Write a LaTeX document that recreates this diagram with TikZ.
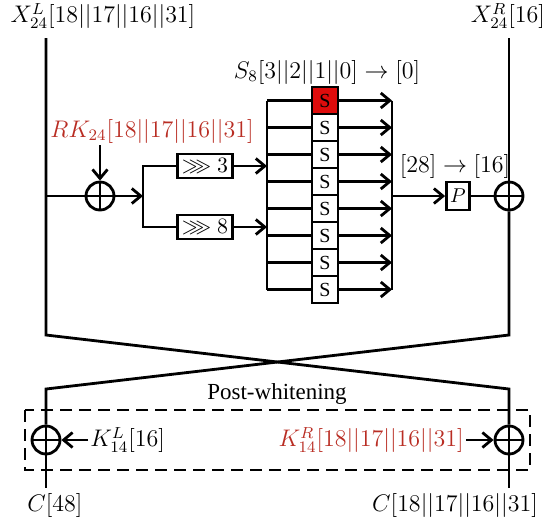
\documentclass[tikz,border=0pt]{standalone}
\usepackage{amssymb}
\usepackage{fontspec}
\setmainfont{Liberation Serif}
\usetikzlibrary{arrows.meta,positioning}
\definecolor{keyred}{RGB}{185,45,35}
\definecolor{sred}{RGB}{222,12,12}
\tikzstyle{arrow} = [->,>={Straight Barb[length=4.5pt,width=7.5pt]}]
\tikzset{
lbl/.style={inner sep=0.5pt,font=\fontsize{11.5}{13}\selectfont},
xorc/.style={circle,draw,minimum size=14pt,inner sep=0pt,
  path picture={\draw[line width=1.4pt] (path picture bounding box.north) -- (path picture bounding box.south)
  (path picture bounding box.west) -- (path picture bounding box.east);}},
shbox/.style={rectangle,draw,minimum width=27.5pt,minimum height=12pt,inner sep=0pt,font=\fontsize{11}{13}\selectfont},
sbox/.style={rectangle,draw,minimum width=13pt,minimum height=13.5pt,inner sep=0pt,fill=white,font=\fontsize{10}{12}\selectfont},
pbox/.style={rectangle,draw,minimum width=11.5pt,minimum height=14pt,inner sep=0pt,font=\fontsize{10}{12}\selectfont}
}

\begin{document}
\begin{tikzpicture}[x=0.5pt,y=-0.5pt,line width=1.4pt]
\useasboundingbox (0,0) rectangle (550,527);

% the two halves of the state
\node[lbl] (xl) at (103,16) {$X_{24}^{L}[18||17||16||31]$};
\node[lbl] (xr) at (508,16) {$X_{24}^{R}[16]$};
\coordinate (lt) at (46,38);
\coordinate (rt) at (509,38);

% round key and the first xor
\node[lbl,text=keyred] (rk) at (152,131) {$RK_{24}[18||17||16||31]$};
\node[xorc] (xa) at (100,196) {};
\draw (xa.west -| lt) -- (xa.west);
\draw[arrow] (rk.south -| xa) -- (xa.north);

% the two rotations
\coordinate (br) at (143,196);
\node[shbox] (sh3) at (205,166) {$\ggg 3$};
\node[shbox] (sh8) at (205,227) {$\ggg 8$};
\draw[arrow] (xa.east) -- (br);
\draw (sh3.west) -| (br) |- (sh8.west);

% the S-box layer
\node[lbl] (s8l) at (327,72) {$S_{8}[3||2||1||0] \rightarrow [0]$};
\coordinate (sl) at (267,196);
\coordinate (sr) at (392,196);
\foreach \value in {1,...,8}
  \node[sbox] (s\value) at (325,73.5+27*\value) {S};
\node[sbox,fill=sred] at (s1) {S};

\foreach \value in {1,...,8}{
  \draw (s\value.west -| sl) -- (s\value.west);
  \draw[arrow] (s\value.east) -- (s\value.east -| sr);
}
\draw (s1.west -| sl) -- (s8.west -| sl);
\draw (s1.east -| sr) -- (s8.east -| sr);
\draw[arrow] (sh3.east) -- (sh3.east -| sl);
\draw[arrow] (sh8.east) -- (sh8.east -| sl);

% permutation and the right xor
\node[lbl] (pl) at (455,166) {$[28] \rightarrow [16]$};
\node[pbox] (pp) at (458,196) {$P$};
\node[xorc] (xb) at (509,196) {};
\draw[arrow] (pp.west -| sr) -- (pp.west);
\draw (pp.east) -- (xb.west);

% the swap
\coordinate (lk) at (46,335);
\coordinate (rk2) at (509,335);
\coordinate (lj) at (46,389);
\coordinate (rj) at (509,389);

% post-whitening
\node[lbl] (pw) at (277,394) {Post-whitening};
\coordinate (wa) at (25,410);
\coordinate (wb) at (530,470);
\draw[dash pattern=on 6pt off 3.5pt] (wa) rectangle (wb);
\node[xorc] (xc) at (46,440) {};
\node[xorc] (xd) at (509,440) {};
\node[lbl,anchor=west] (kl) at (88,440) {$K_{14}^{L}[16]$};
\node[lbl,anchor=east,text=keyred] (kr) at (466,440) {$K_{14}^{R}[18||17||16||31]$};
\draw[arrow] (kl.west) -- (xc.east);
\draw[arrow] (kr.east) -- (xd.west);

% outputs
\coordinate (lb) at (46,488);
\coordinate (rb) at (509,488);
\node[lbl] (cl) at (55,505) {$C[48]$};
\node[lbl] (cr) at (455,505) {$C[18||17||16||31]$};

% the two vertical lines
\draw (lt) -- (xa.west -| lt) -- (lk) -- (rj) -- (xd.north);
\draw (rt) -- (xb.north);
\draw (xb.south) -- (rk2) -- (lj) -- (xc.north);
\draw (xc.south) -- (lb);
\draw (xd.south) -- (rb);

\end{tikzpicture}
\end{document}
